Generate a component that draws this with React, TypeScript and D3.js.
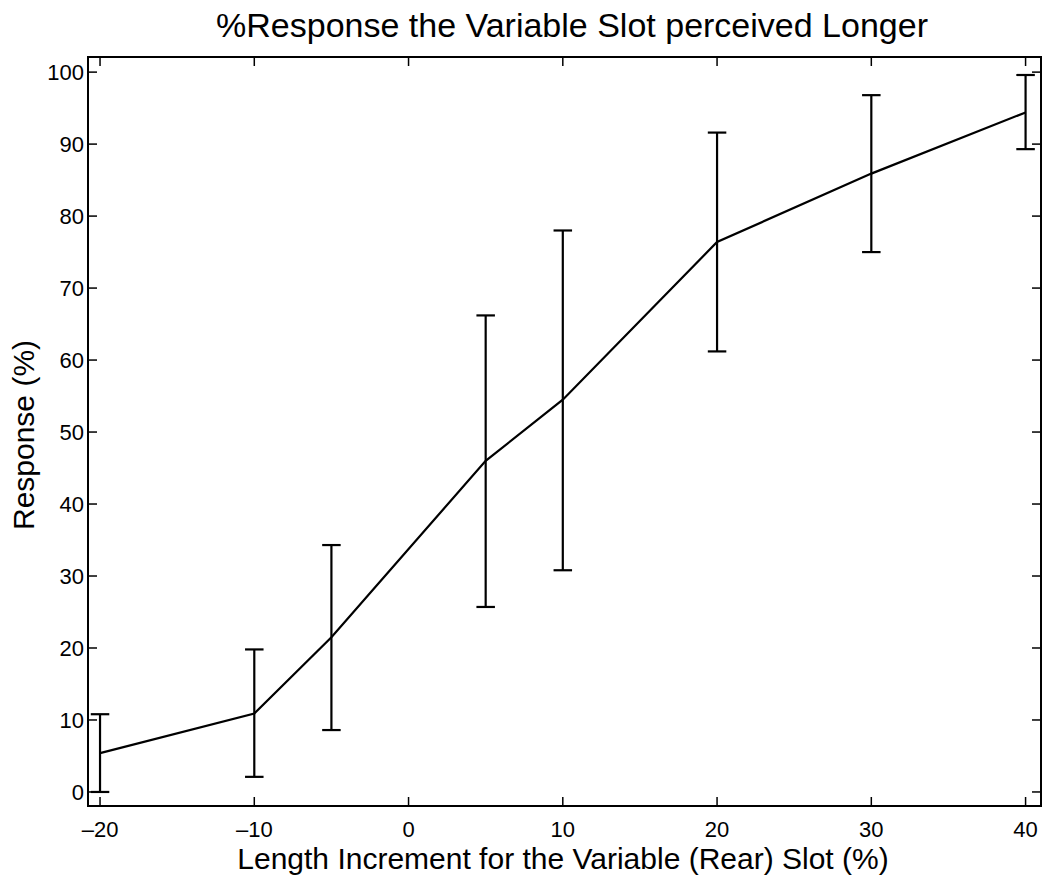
import React from "react";
import * as d3 from "d3";

const xValues = [-20, -10, -5, 5, 10, 20, 30, 40];
const meanValues = [5.4, 10.9, 21.5, 46.0, 54.5, 76.4, 85.9, 94.4];
const upperValues = [10.8, 19.8, 34.3, 66.2, 78.0, 91.6, 96.8, 99.6];
const lowerValues = [0.0, 2.1, 8.6, 25.7, 30.8, 61.2, 75.0, 89.3];
const xTicks = [-20, -10, 0, 10, 20, 30, 40];
const yTicks = [0, 10, 20, 30, 40, 50, 60, 70, 80, 90, 100];

const W = 1042;
const H = 875;
const left = 88;
const right = 1041;
const top = 57;
const bottom = 806;

export default function App() {
  const x = d3.scaleLinear().domain([-20.78, 41.0]).range([left, right]);
  const y = d3.scaleLinear().domain([-1.95, 102.1]).range([bottom, top]);
  const line = d3
    .line<number>()
    .x((_, i) => x(xValues[i]))
    .y((d) => y(d));
  const cap = 0.6;
  const tick = 9;
  const font = "'Liberation Sans', Arial, Helvetica, sans-serif";
  const fmt = (v: number) => (v < 0 ? "\u2013" + Math.abs(v) : String(v));
  return (
    <svg
      width={W}
      height={H}
      style={{ position: "absolute", left: 0, top: 0, background: "#fff" }}
      fontFamily={font}
    >
      <rect x={0} y={0} width={W} height={H} fill="#fff" />
      {/* axes box */}
      <rect x={left} y={top} width={right - left} height={bottom - top} fill="none" stroke="#000" strokeWidth={2} />
      {/* x ticks */}
      {xTicks.map((t) => (
        <g key={"xt" + t}>
          <line x1={x(t)} x2={x(t)} y1={bottom} y2={bottom - tick} stroke="#000" strokeWidth={1.5} />
          <line x1={x(t)} x2={x(t)} y1={top} y2={top + tick} stroke="#000" strokeWidth={1.5} />
          <text x={x(t)} y={837} textAnchor="middle" fontSize={22}>
            {fmt(t)}
          </text>
        </g>
      ))}
      {/* y ticks */}
      {yTicks.map((t) => (
        <g key={"yt" + t}>
          <line x1={left} x2={left + tick} y1={y(t)} y2={y(t)} stroke="#000" strokeWidth={1.5} />
          <line x1={right} x2={right - tick} y1={y(t)} y2={y(t)} stroke="#000" strokeWidth={1.5} />
          <text x={left - 4} y={y(t) + 8} textAnchor="end" fontSize={22}>
            {fmt(t)}
          </text>
        </g>
      ))}
      {/* error bars */}
      {xValues.map((xv, i) => (
        <g key={"eb" + xv} stroke="#000" strokeWidth={2.2}>
          <line x1={x(xv)} x2={x(xv)} y1={y(lowerValues[i])} y2={y(upperValues[i])} />
          <line x1={x(xv - cap)} x2={x(xv + cap)} y1={y(lowerValues[i])} y2={y(lowerValues[i])} />
          <line x1={x(xv - cap)} x2={x(xv + cap)} y1={y(upperValues[i])} y2={y(upperValues[i])} />
        </g>
      ))}
      {/* mean line */}
      <path d={line(meanValues) || ""} fill="none" stroke="#000" strokeWidth={2.2} />
      {/* title */}
      <text x={572} y={37} textAnchor="middle" fontSize={34}>
        %Response the Variable Slot perceived Longer
      </text>
      {/* x label */}
      <text x={563} y={869} textAnchor="middle" fontSize={30}>
        Length Increment for the Variable (Rear) Slot (%)
      </text>
      {/* y label */}
      <text
        transform={`translate(34, 435) rotate(-90)`}
        textAnchor="middle"
        fontSize={30}
      >
        Response (%)
      </text>
    </svg>
  );
}
